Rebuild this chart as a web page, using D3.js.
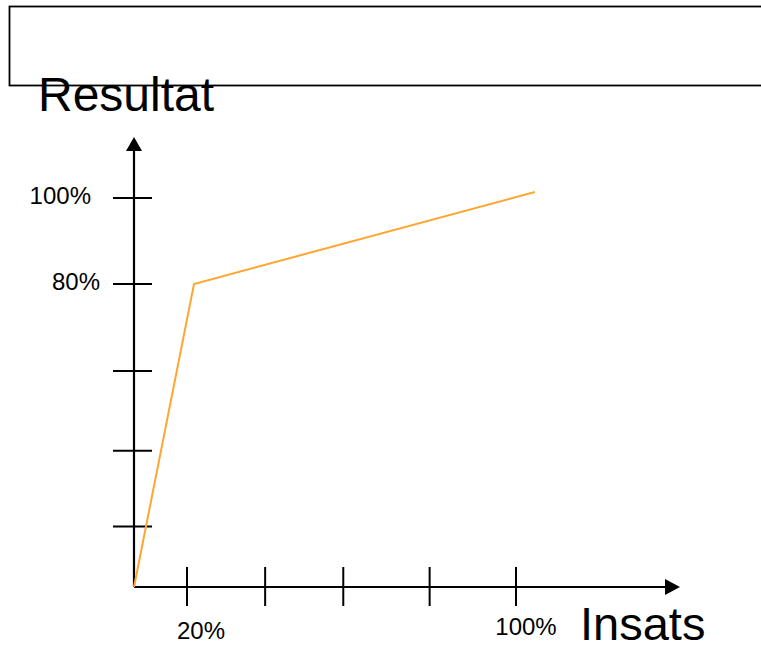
<!DOCTYPE html>
<html>
<head>
<meta charset="utf-8">
<script src="https://cdn.jsdelivr.net/npm/d3@7/dist/d3.min.js"></script>
<style>
  body { margin: 0; background: #fff; }
  text { font-family: "Liberation Sans", Arial, sans-serif; fill: #000; }
</style>
</head>
<body>
<div id="chart"></div>
<script>
// values (percent)
var insats   = [0, 21.7, 104.6];
var resultat = [0, 80, 101.4];
var xTicks = [20, 39, 58, 79, 100];
var yTicks = [16, 36, 57, 80, 100];
var xTickLabels = {20: "20%", 100: "100%"};
var yTickLabels = {80: "80%", 100: "100%"};

var W = 761, H = 647;

// hand drawn axes: spacing is not quite even, so piecewise scales
var x = d3.scaleLinear().domain([0, 20, 100]).range([134, 187, 516]);
var y = d3.scaleLinear().domain([0, 80, 100]).range([587, 284, 198]);

var svg = d3.select("#chart").append("svg")
  .attr("width", W)
  .attr("height", H);

// empty title box at the top
svg.append("rect")
  .attr("x", 9.5).attr("y", 6.5)
  .attr("width", 770).attr("height", 79)
  .attr("fill", "none")
  .attr("stroke", "#000")
  .attr("stroke-width", 1.8);

var x0 = x(0), y0 = y(0);
var xEnd = 680, yEnd = 137;

// axis lines
svg.append("line")
  .attr("x1", x0).attr("y1", y0).attr("x2", xEnd - 10).attr("y2", y0)
  .attr("stroke", "#000").attr("stroke-width", 2.2);
svg.append("line")
  .attr("x1", x0).attr("y1", y0).attr("x2", x0).attr("y2", yEnd + 10)
  .attr("stroke", "#000").attr("stroke-width", 2.2);

// arrow heads
svg.append("path")
  .attr("d", "M" + xEnd + "," + y0 + " L" + (xEnd - 15) + "," + (y0 - 8) + " L" + (xEnd - 15) + "," + (y0 + 8) + " Z")
  .attr("fill", "#000");
svg.append("path")
  .attr("d", "M" + x0 + "," + yEnd + " L" + (x0 - 8) + "," + (yEnd + 14) + " L" + (x0 + 8) + "," + (yEnd + 14) + " Z")
  .attr("fill", "#000");

// ticks crossing the axes
svg.selectAll("line.xtick")
  .data(xTicks)
.enter()
  .append("line")
  .attr("class", "xtick")
  .attr("x1", function(d) { return x(d); })
  .attr("x2", function(d) { return x(d); })
  .attr("y1", y0 - 20)
  .attr("y2", y0 + 19)
  .attr("stroke", "#000").attr("stroke-width", 2);

svg.selectAll("line.ytick")
  .data(yTicks)
.enter()
  .append("line")
  .attr("class", "ytick")
  .attr("y1", function(d) { return y(d); })
  .attr("y2", function(d) { return y(d); })
  .attr("x1", x0 - 21)
  .attr("x2", x0 + 18)
  .attr("stroke", "#000").attr("stroke-width", 2);

// tick labels (placement is a bit loose in the original)
var xLabelDx = {20: 14, 100: 10};
var yLabelEnd = {80: 100, 100: 91};

svg.selectAll("text.xlabel")
  .data(xTicks.filter(function(d) { return xTickLabels[d]; }))
.enter()
  .append("text")
  .attr("class", "xlabel")
  .attr("x", function(d) { return x(d) + xLabelDx[d]; })
  .attr("y", function(d) { return d == 100 ? 635 : 639; })
  .attr("text-anchor", "middle")
  .attr("font-size", 24)
  .text(function(d) { return xTickLabels[d]; });

svg.selectAll("text.ylabel")
  .data(yTicks.filter(function(d) { return yTickLabels[d]; }))
.enter()
  .append("text")
  .attr("class", "ylabel")
  .attr("x", function(d) { return yLabelEnd[d]; })
  .attr("y", function(d) { return y(d) + 6; })
  .attr("text-anchor", "end")
  .attr("font-size", 24)
  .text(function(d) { return yTickLabels[d]; });

// axis titles
svg.append("text")
  .attr("x", 38).attr("y", 111)
  .attr("font-size", 48)
  .text("Resultat");
svg.append("text")
  .attr("x", 580).attr("y", 640)
  .attr("font-size", 47)
  .text("Insats");

// the curve
var line = d3.line()
  .x(function(d, i) { return x(insats[i]); })
  .y(function(d, i) { return y(resultat[i]); });

svg.append("path")
  .datum(insats)
  .attr("d", line)
  .attr("fill", "none")
  .attr("stroke", "#FFA530")
  .attr("stroke-width", 2);
</script>
</body>
</html>
